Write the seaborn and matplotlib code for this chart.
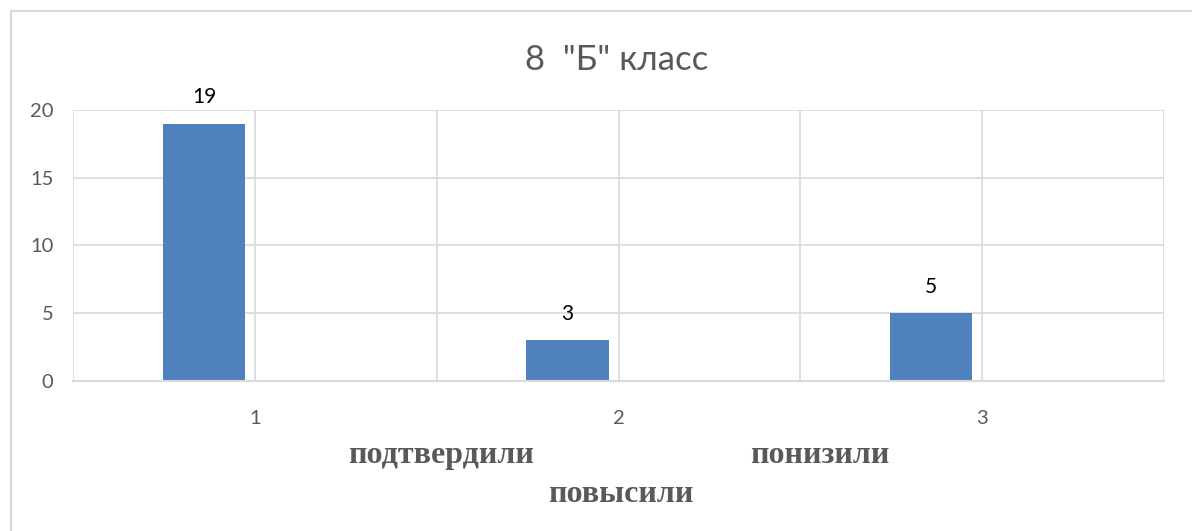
import pandas as pd
import seaborn as sns
import matplotlib.pyplot as plt
from matplotlib.patches import Rectangle

# данные диаграммы
categories = ["1", "2", "3"]
series_names = ["Ряд1", "Ряд2"]
values_main = [19, 3, 5]
values_empty = [0, 0, 0]
y_ticks = [0, 5, 10, 15, 20]
title = '8  "Б" класс'
bottom_words = ["подтвердили", "понизили", "повысили"]

rows = []
for cat, v1, v2 in zip(categories, values_main, values_empty):
    rows.append([cat, series_names[0], v1])
    rows.append([cat, series_names[1], v2])
df = pd.DataFrame(rows, columns=["Категория", "Ряд", "Значение"])

sns.set_style("white")
plt.rcParams['font.family'] = ['Lato', 'DejaVu Sans']

grey = "#595959"
grid_c = "#D9D9D9"

fig = plt.figure(figsize=(11.92, 5.31), dpi=100)
ax = fig.add_axes([73 / 1192, 150 / 531, 1091 / 1192, 271 / 531])

sns.barplot(data=df, x="Категория", y="Значение", hue="Ряд", order=categories,
            hue_order=series_names, palette=["#4F81BD", "#C0504D"], saturation=1,
            width=0.56, gap=0.19, linewidth=0, legend=False, ax=ax)

# подписи значений только для первого ряда
ax.bar_label(ax.containers[0], labels=[str(v) for v in values_main],
             padding=12, fontsize=15, color="black")

ax.set_xlim(-0.5, 2.5)
ax.set_ylim(0, 20)
ax.set_yticks(y_ticks)
ax.set_xticks([0, 1, 2])
ax.set_xticks([-0.5, 0.5, 1.5, 2.5], minor=True)
ax.set_xlabel("")
ax.set_ylabel("")
ax.grid(True, which="both", color=grid_c, linewidth=1.2)
ax.set_axisbelow(True)

for side in ["top", "right", "left"]:
    ax.spines[side].set_visible(False)
ax.spines["bottom"].set_color(grid_c)
ax.spines["bottom"].set_linewidth(1.5)

ax.tick_params(axis="y", length=0, labelsize=14.5, labelcolor=grey, pad=14)
ax.tick_params(axis="x", which="major", length=0, labelsize=14.5, labelcolor=grey, pad=21)
ax.tick_params(axis="x", which="minor", length=8, width=1.2, color=grid_c, direction="inout")

fig.text(617 / 1192, 1 - 60 / 531, title, ha="center", va="center",
         fontsize=25, color=grey)

# подписи снизу
serif = dict(family="Liberation Serif", fontweight="bold", color=grey, fontsize=23,
             ha="center", va="baseline")
fig.text(441 / 1192, 1 - 463 / 531, bottom_words[0], **serif)
fig.text(820 / 1192, 1 - 463 / 531, bottom_words[1], **serif)
fig.text(621 / 1192, 1 - 502 / 531, bottom_words[2], **serif)

# рамка области диаграммы
fig.patches.append(Rectangle((11 / 1192, -0.1), 1.2, 1.1 - 11 / 531,
                             transform=fig.transFigure, fill=False,
                             edgecolor=grid_c, linewidth=1.5))

fig.savefig("out.png", dpi=100)
